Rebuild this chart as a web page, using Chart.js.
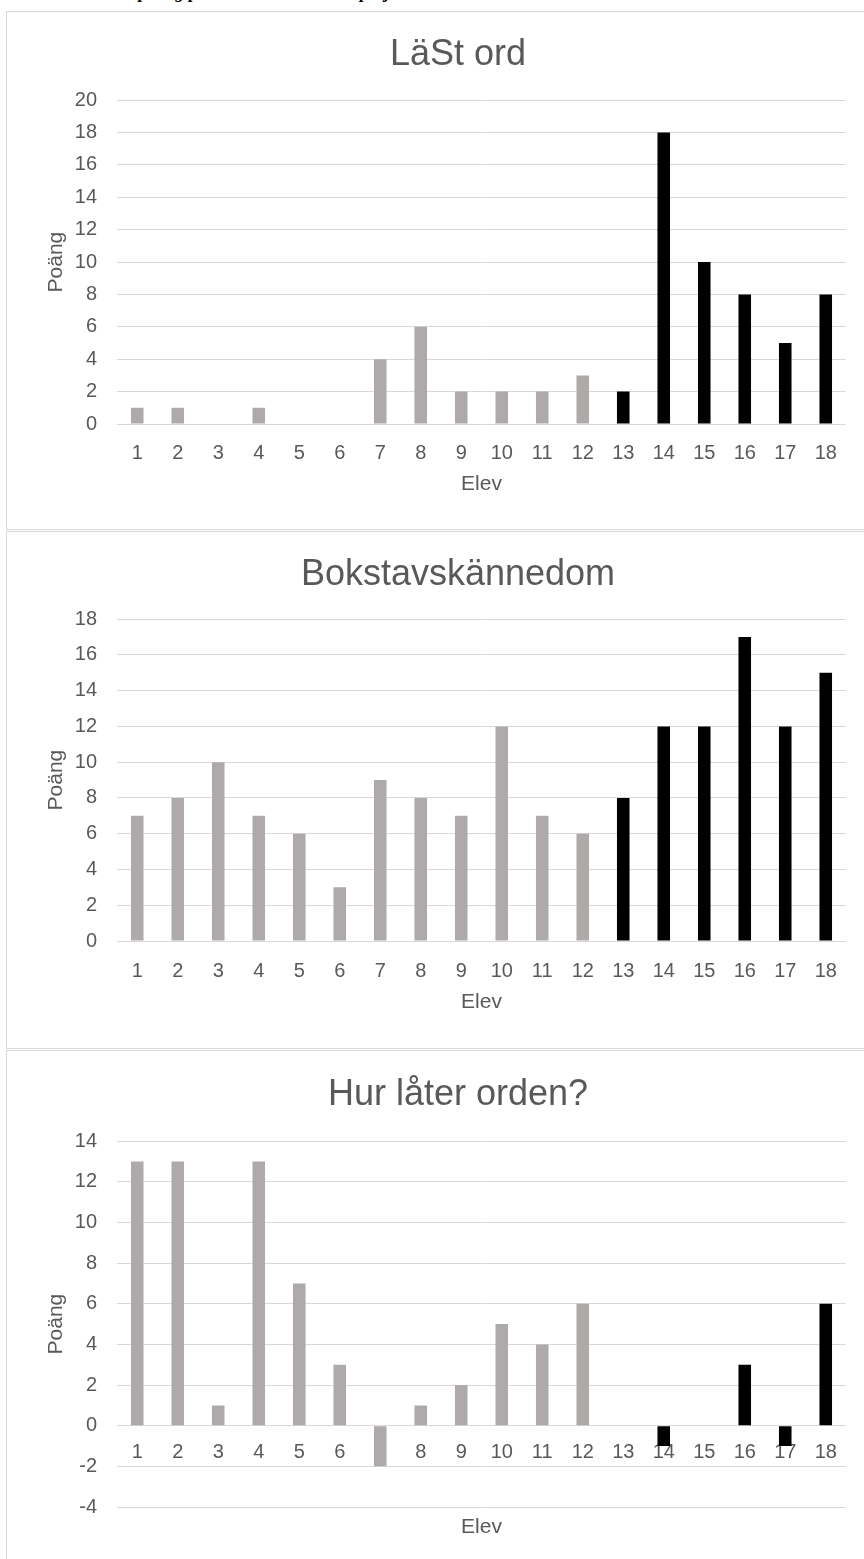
<!DOCTYPE html>
<html>
<head>
<meta charset="utf-8">
<script src="https://cdn.jsdelivr.net/npm/chart.js@4.4.1/dist/chart.umd.min.js"></script>
<style>
  html, body { margin: 0; padding: 0; background: #ffffff; }
  body { width: 864px; height: 1559px; overflow: hidden; position: relative; }
  .caption {
    position: absolute; left: 60px; top: -17px; white-space: nowrap;
    font-family: 'Liberation Serif', 'DejaVu Serif', serif;
    font-style: italic; font-weight: bold; font-size: 18px; line-height: 18px; color: #000;
  }
  .box { position: absolute; left: 6px; width: 960px; border: 1px solid #d9d9d9; background: #fff; }
  .box canvas { display: block; }
</style>
</head>
<body>
<div class="caption">Elevernas poäng på testerna under hela projektet</div>
<div class="box" style="top:11px;height:517px"><canvas id="c1" width="910" height="517"></canvas></div>
<div class="box" style="top:531px;height:516px"><canvas id="c2" width="910" height="516"></canvas></div>
<div class="box" style="top:1050px;height:520px"><canvas id="c3" width="910" height="508"></canvas></div>
<script>
// Students 1-18
const elever = ['1','2','3','4','5','6','7','8','9','10','11','12','13','14','15','16','17','18'];

// Scores per test
const lastOrd = [1, 1, 0, 1, 0, 0, 4, 6, 2, 2, 2, 3, 2, 18, 10, 8, 5, 8];
const bokstavskannedom = [7, 8, 10, 7, 6, 3, 9, 8, 7, 12, 7, 6, 8, 12, 12, 17, 12, 15];
const hurLaterOrden = [13, 13, 1, 13, 7, 3, -2, 1, 2, 5, 4, 6, 0, -1, 0, 3, -1, 6];

// Students 13-18 form the second group (drawn in black)
const grupp = [1, 1, 1, 1, 1, 1, 1, 1, 1, 1, 1, 1, 2, 2, 2, 2, 2, 2];

const GREY = '#AEAAAA';
const BLACK = '#000000';
const TEXT = '#595959';
const GRID = '#d9d9d9';
const FONT = "'Liberation Sans', Arial, sans-serif";

const barColors = grupp.map(g => g === 1 ? GREY : BLACK);

function makeChart(id, cfg) {
  const ctx = document.getElementById(id);
  const xAtZero = cfg.xAtZero;
  const axisTitle = text => ({
    display: true, text: text, color: TEXT,
    font: { family: FONT, size: 21 }, padding: { top: 0, bottom: 0 }
  });
  const scales = {
    x: {
      type: 'category',
      position: xAtZero ? { y: 0 } : 'bottom',
      grid: { display: false, drawTicks: false },
      border: { display: false },
      ticks: { color: TEXT, font: { family: FONT, size: 20 }, padding: cfg.xTickPad, maxRotation: 0, autoSkip: false },
      title: xAtZero ? { display: false } : axisTitle('Elev'),
      afterFit: s => { if (!xAtZero) s.height = cfg.xHeight; }
    },
    y: {
      position: 'left',
      min: cfg.min, max: cfg.max,
      grid: { color: GRID, lineWidth: 1, drawTicks: false },
      border: { display: false },
      ticks: { stepSize: 2, color: TEXT, font: { family: FONT, size: 20 }, padding: 20 },
      title: Object.assign(axisTitle('Poäng'), { padding: { top: 37, bottom: 0 } }),
      afterFit: s => { s.width = 110; }
    },
    yr: {
      type: 'linear', position: 'right', display: true,
      grid: { display: false, drawTicks: false },
      border: { display: false },
      ticks: { display: false },
      afterFit: s => { s.width = 63; }
    }
  };
  if (xAtZero) {
    scales.xt = {
      type: 'category', position: 'bottom',
      grid: { display: false, drawTicks: false },
      border: { display: false },
      ticks: { display: false },
      title: axisTitle('Elev'),
      afterFit: s => { s.height = cfg.xHeight; }
    };
  }
  return new Chart(ctx, {
    type: 'bar',
    data: {
      labels: elever,
      datasets: [{
        data: cfg.values,
        backgroundColor: barColors,
        borderWidth: 0,
        categoryPercentage: 0.31,
        barPercentage: 1.0,
        xAxisID: 'x', yAxisID: 'y'
      }]
    },
    options: {
      responsive: false,
      animation: false,
      devicePixelRatio: 1,
      layout: { padding: { left: 0, right: 8, top: 0, bottom: cfg.padBottom } },
      plugins: {
        legend: { display: false },
        tooltip: { enabled: false },
        title: {
          display: true, text: cfg.title, color: TEXT,
          font: { family: FONT, size: 36, weight: 'normal' },
          padding: { top: cfg.titleTop, bottom: cfg.titleBottom }
        }
      },
      scales: scales
    }
  });
}

makeChart('c1', {
  title: 'LäSt ord', values: lastOrd, min: 0, max: 20,
  titleTop: 21, titleBottom: 24, xHeight: 72.6, xTickPad: 17, padBottom: 32.4
});
makeChart('c2', {
  title: 'Bokstavskännedom', values: bokstavskannedom, min: 0, max: 18,
  titleTop: 21, titleBottom: 23, xHeight: 73.6, xTickPad: 18, padBottom: 33.4
});
makeChart('c3', {
  title: 'Hur låter orden?', values: hurLaterOrden, min: -4, max: 14,
  titleTop: 22, titleBottom: 25, xHeight: 32.6, xTickPad: 15, padBottom: 19.4, xAtZero: true
});
</script>
</body>
</html>
